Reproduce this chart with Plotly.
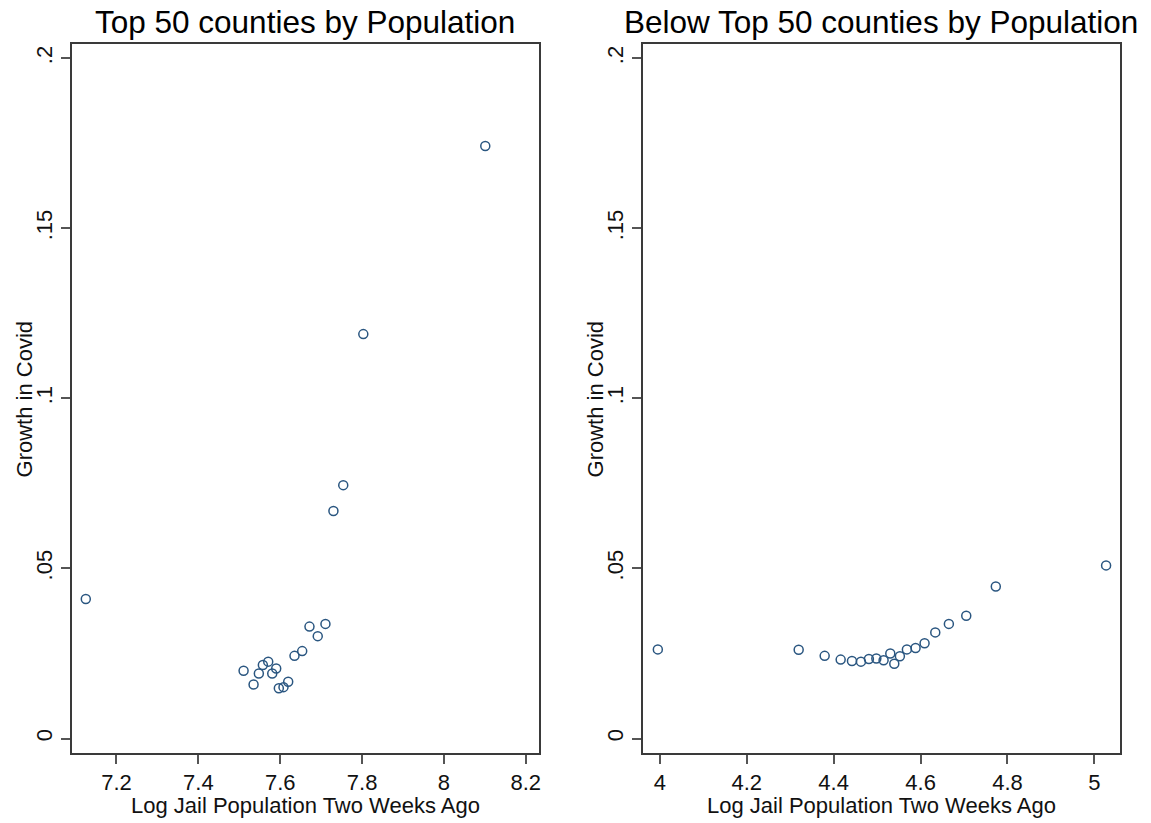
import plotly.graph_objects as go

# ---- data ----
top_x = [7.125, 7.5105, 7.5349, 7.5478, 7.5576, 7.5707, 7.5805, 7.5902, 7.5966, 7.6080,
         7.6195, 7.6349, 7.6537, 7.6715, 7.6917, 7.7105, 7.730, 7.754, 7.803, 8.101]
top_y = [0.0410, 0.0199, 0.0159, 0.0191, 0.0216, 0.0226, 0.0191, 0.0206, 0.0148, 0.0151,
         0.0167, 0.0243, 0.0257, 0.0329, 0.0301, 0.0337, 0.0669, 0.0745, 0.1189, 0.1742]

below_x = [3.9954, 4.3195, 4.3793, 4.4161, 4.4421, 4.4628, 4.4811, 4.4982, 4.5149, 4.5303,
           4.5395, 4.5524, 4.5685, 4.5885, 4.6092, 4.6338, 4.6651, 4.7051, 4.7731, 5.0269]
below_y = [0.0262, 0.0261, 0.0243, 0.0232, 0.0228, 0.0226, 0.0234, 0.0235, 0.0230, 0.0250,
           0.0220, 0.0242, 0.0262, 0.0266, 0.0280, 0.0312, 0.0337, 0.0361, 0.0447, 0.0509]

y_tickvals = [0, 0.05, 0.1, 0.15, 0.2]
y_ticktext = ["0", ".05", ".1", ".15", ".2"]
top_xticks = [7.2, 7.4, 7.6, 7.8, 8.0, 8.2]
top_xticktext = ["7.2", "7.4", "7.6", "7.8", "8", "8.2"]
below_xticks = [4.0, 4.2, 4.4, 4.6, 4.8, 5.0]
below_xticktext = ["4", "4.2", "4.4", "4.6", "4.8", "5"]

titles = ["Top 50 counties by Population", "Below Top 50 counties by Population"]
x_title = "Log Jail Population Two Weeks Ago"
y_title = "Growth in Covid"

W, H = 1151, 823
FONT = "Liberation Sans, Arial, sans-serif"
MARK = "#2a5680"

# pixel geometry of the two plot regions
L1, R1 = 72, 540
L2, R2 = 644, 1122
TOP, BOT = 44, 753

def px(x):
    return x / W

def py(y):
    return 1 - y / H

fig = go.Figure()
for xs, ys, xa, ya in [(top_x, top_y, "x", "y"), (below_x, below_y, "x2", "y2")]:
    fig.add_trace(go.Scatter(x=xs, y=ys, mode="markers", xaxis=xa, yaxis=ya,
                             marker=dict(symbol="circle-open", size=9, color=MARK,
                                         line=dict(width=1.5, color=MARK)),
                             showlegend=False, hoverinfo="x+y"))

axis_common = dict(showgrid=False, zeroline=False, showline=True, mirror=True,
                   linecolor="#3a3a3a", linewidth=2, ticks="outside", ticklen=9,
                   tickwidth=1.5, tickcolor="#555555",
                   tickfont=dict(family=FONT, size=22, color="#111111"))

fig.update_layout(
    width=W, height=H, margin=dict(l=0, r=0, t=0, b=0),
    paper_bgcolor="white", plot_bgcolor="white",
    xaxis=dict(domain=[px(L1), px(R1)], range=[7.091, 8.2324], anchor="y",
               tickmode="array", tickvals=top_xticks, ticktext=top_xticktext, **axis_common),
    yaxis=dict(domain=[py(BOT), py(TOP)], range=[-0.00426, 0.2042], anchor="x",
               tickmode="array", tickvals=y_tickvals, ticktext=y_ticktext,
               tickangle=-90, **axis_common),
    xaxis2=dict(domain=[px(L2), px(R2)], range=[3.961, 5.059], anchor="y2",
                tickmode="array", tickvals=below_xticks, ticktext=below_xticktext, **axis_common),
    yaxis2=dict(domain=[py(BOT), py(TOP)], range=[-0.00426, 0.2042], anchor="x2",
                tickmode="array", tickvals=y_tickvals, ticktext=y_ticktext,
                tickangle=-90, **axis_common),
)

ann = []
for (l, r), t in zip([(L1, R1), (L2, R2)], titles):
    cx = (l + r) / 2
    ann.append(dict(text=t, x=px(cx), y=py(22), xref="paper", yref="paper",
                    xanchor="center", yanchor="middle", showarrow=False,
                    font=dict(family=FONT, size=31.5, color="#000000")))
    ann.append(dict(text=x_title, x=px(cx), y=py(805), xref="paper", yref="paper",
                    xanchor="center", yanchor="middle", showarrow=False,
                    font=dict(family=FONT, size=22, color="#111111")))
    ann.append(dict(text=y_title, x=px(l - 47), y=py((TOP + BOT) / 2), xref="paper",
                    yref="paper", xanchor="center", yanchor="middle", showarrow=False,
                    textangle=-90, font=dict(family=FONT, size=22, color="#111111")))
fig.update_layout(annotations=ann)

fig.write_html("out.html", config={"displayModeBar": False},
               post_script="document.body.style.margin='0';document.body.style.overflow='hidden';")
